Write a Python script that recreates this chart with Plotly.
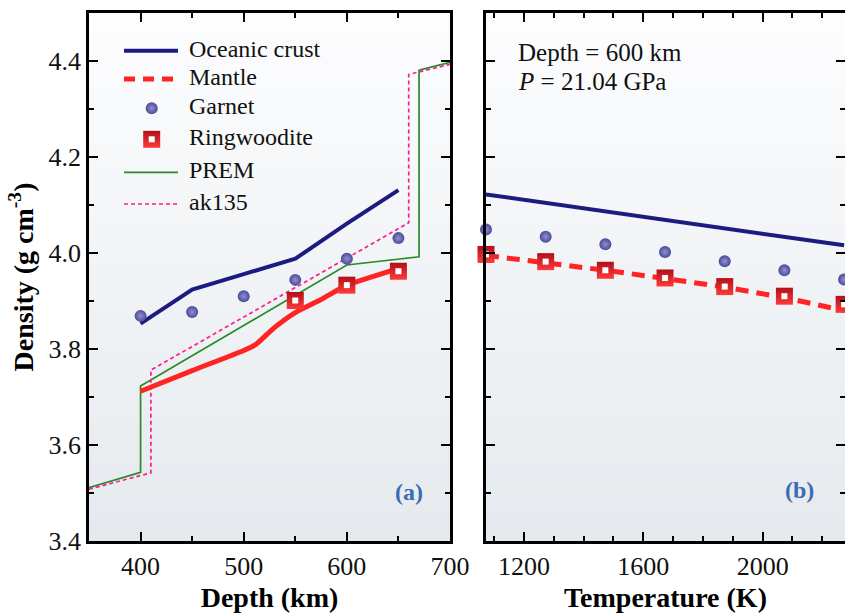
import plotly.graph_objects as go

# ---------------- data: panel (a) density vs depth ----------------
depth_crust = [400, 450, 500, 550, 600, 650]
rho_crust_a = [3.853, 3.924, 3.956, 3.988, 4.061, 4.131]
depth_mantle = [400, 450, 500, 512, 530, 550, 575, 600, 625, 650]
rho_mantle_a = [3.712, 3.755, 3.797, 3.810, 3.845, 3.876, 3.903, 3.933, 3.951, 3.968]
depth_garnet = [400, 450, 500, 550, 600, 650]
rho_garnet_a = [3.869, 3.877, 3.910, 3.944, 3.988, 4.031]
depth_ring = [550, 600, 650]
rho_ring_a = [3.901, 3.933, 3.962]
depth_prem = [350, 400, 400, 600, 670, 670, 700]
rho_prem = [3.511, 3.543, 3.723, 3.975, 3.992, 4.381, 4.397]
depth_ak135 = [350, 410, 410, 660, 660, 700]
rho_ak135 = [3.508, 3.542, 3.756, 4.063, 4.372, 4.393]

# ---------------- data: panel (b) density vs temperature at 600 km ----------------
temperature = [1073, 1273, 1473, 1673, 1873, 2073, 2273]
rho_crust_b = [4.122, 4.104, 4.086, 4.069, 4.051, 4.034, 4.016]
rho_mantle_b = [3.995, 3.980, 3.964, 3.947, 3.929, 3.907, 3.880]
rho_garnet_b = [4.049, 4.034, 4.018, 4.002, 3.983, 3.964, 3.945]
rho_ring_b = [3.997, 3.982, 3.964, 3.948, 3.930, 3.910, 3.893]

legend_names = ["Oceanic crust", "Mantle", "Garnet", "Ringwoodite", "PREM", "ak135"]
xticks_a = [400, 500, 600, 700]
xticks_b = [1200, 1600, 2000]

# ---------------- styles ----------------
FONT = "Liberation Serif"
NAVY = "#1b1b80"
RED = "#ff2323"
GREEN = "#2a8a2a"
PINK = "#ff1c8c"
GARNET = "#4a4a9c"
GARNET_HI = "#9090cc"
RING = "#b0101a"
RING_DARK = "#ff3a3a"
LABEL_BLUE = "#3a6cb2"

fig = go.Figure()

def garnet_marker(size=12):
    return dict(symbol="circle", size=size, color=GARNET,
                gradient=dict(type="radial", color=GARNET_HI), line=dict(width=0))

def ring_outer(size=17):
    return dict(symbol="square", size=size, color=RING,
                gradient=dict(type="vertical", color=RING_DARK), line=dict(width=0))

def ring_inner(size=6):
    return dict(symbol="square", size=size, color="white", line=dict(width=0))

# panel (a)
fig.add_trace(go.Scatter(x=depth_prem, y=rho_prem, mode="lines",
                         line=dict(color=GREEN, width=1.7), xaxis="x", yaxis="y"))
fig.add_trace(go.Scatter(x=depth_ak135, y=rho_ak135, mode="lines",
                         line=dict(color=PINK, width=1.7, dash="4px,3px"), xaxis="x", yaxis="y"))
fig.add_trace(go.Scatter(x=depth_crust, y=rho_crust_a, mode="lines",
                         line=dict(color=NAVY, width=4), xaxis="x", yaxis="y"))
fig.add_trace(go.Scatter(x=depth_mantle, y=rho_mantle_a, mode="lines",
                         line=dict(color=RED, width=5, shape="spline", smoothing=0.6), xaxis="x", yaxis="y"))
fig.add_trace(go.Scatter(x=depth_garnet, y=rho_garnet_a, mode="markers",
                         marker=garnet_marker(), cliponaxis=False, xaxis="x", yaxis="y"))
fig.add_trace(go.Scatter(x=depth_ring, y=rho_ring_a, mode="markers",
                         marker=ring_outer(), cliponaxis=False, xaxis="x", yaxis="y"))
fig.add_trace(go.Scatter(x=depth_ring, y=rho_ring_a, mode="markers",
                         marker=ring_inner(), cliponaxis=False, xaxis="x", yaxis="y"))

# panel (b)
fig.add_trace(go.Scatter(x=temperature, y=rho_crust_b, mode="lines",
                         line=dict(color=NAVY, width=4), xaxis="x2", yaxis="y2"))
fig.add_trace(go.Scatter(x=temperature, y=rho_mantle_b, mode="lines",
                         line=dict(color=RED, width=5, dash="13px,8px"), xaxis="x2", yaxis="y2"))
fig.add_trace(go.Scatter(x=temperature, y=rho_garnet_b, mode="markers",
                         marker=garnet_marker(), cliponaxis=False, xaxis="x2", yaxis="y2"))
fig.add_trace(go.Scatter(x=temperature, y=rho_ring_b, mode="markers",
                         marker=ring_outer(), cliponaxis=False, xaxis="x2", yaxis="y2"))
fig.add_trace(go.Scatter(x=temperature, y=rho_ring_b, mode="markers",
                         marker=ring_inner(), cliponaxis=False, xaxis="x2", yaxis="y2"))

# ---------------- hand-made legend (fractions of panel (a)) ----------------
leg_x0, leg_x1, leg_xm, leg_xt = 0.097, 0.2465, 0.1737, 0.2715
leg_rows = [0.9286, 0.875, 0.8195, 0.7608, 0.6983, 0.6383]
line_styles = {0: dict(color=NAVY, width=4),
               1: dict(color=RED, width=5, dash="11px,8px"),
               4: dict(color=GREEN, width=1.7),
               5: dict(color=PINK, width=1.7, dash="4px,3px")}
for i, st in line_styles.items():
    fig.add_trace(go.Scatter(x=[leg_x0, leg_x1], y=[leg_rows[i]] * 2, mode="lines",
                             line=st, xaxis="x3", yaxis="y3"))
fig.add_trace(go.Scatter(x=[leg_xm], y=[leg_rows[2]], mode="markers",
                         marker=garnet_marker(), xaxis="x3", yaxis="y3"))
fig.add_trace(go.Scatter(x=[leg_xm], y=[leg_rows[3]], mode="markers",
                         marker=ring_outer(), xaxis="x3", yaxis="y3"))
fig.add_trace(go.Scatter(x=[leg_xm], y=[leg_rows[3]], mode="markers",
                         marker=ring_inner(), xaxis="x3", yaxis="y3"))

annotations = []
for name, yy in zip(legend_names, leg_rows):
    annotations.append(dict(text=name, x=leg_xt, y=yy + 0.004, xref="x domain", yref="y domain",
                            xanchor="left", yanchor="middle", showarrow=False,
                            font=dict(family=FONT, size=24, color="#111111")))
annotations += [
    dict(text="<b>(a)</b>", x=0.886, y=0.093, xref="x domain", yref="y domain",
         xanchor="center", yanchor="middle", showarrow=False,
         font=dict(family=FONT, size=24, color=LABEL_BLUE)),
    dict(text="<b>(b)</b>", x=0.873, y=0.097, xref="x2 domain", yref="y2 domain",
         xanchor="center", yanchor="middle", showarrow=False,
         font=dict(family=FONT, size=24, color=LABEL_BLUE)),
    dict(text="Depth = 600 km", x=0.084, y=0.926, xref="x2 domain", yref="y2 domain",
         xanchor="left", yanchor="middle", showarrow=False,
         font=dict(family=FONT, size=25, color="#111111")),
    dict(text="<i>P</i> = 21.04 GPa", x=0.084, y=0.870, xref="x2 domain", yref="y2 domain",
         xanchor="left", yanchor="middle", showarrow=False,
         font=dict(family=FONT, size=25, color="#111111")),
]

# ---------------- gradient background ----------------
def lerp(c0, c1, t):
    return "rgb(%d,%d,%d)" % tuple(round(a + (b - a) * t) for a, b in zip(c0, c1))

TOP = (253, 253, 254)
BOT = (229, 234, 238)
shapes = []
N = 48
for xr, yr in [("x domain", "y domain"), ("x2 domain", "y2 domain")]:
    for k in range(N):
        t = k / (N - 1)
        shapes.append(dict(type="rect", xref=xr, yref=yr, x0=0, x1=1,
                           y0=1 - (k + 1) / N, y1=1 - k / N + 0.002,
                           fillcolor=lerp(TOP, BOT, t), line=dict(width=0), layer="below"))

axis_common = dict(showline=True, linecolor="black", linewidth=2.5, mirror="allticks",
                   ticks="inside", ticklen=9, tickwidth=2, tickcolor="black",
                   showgrid=False, zeroline=False, automargin=False,
                   tickfont=dict(family=FONT, size=26, color="#111111"))
minor_common = dict(ticks="inside", ticklen=5, tickwidth=2, tickcolor="black", showgrid=False)

fig.update_layout(
    width=845, height=615,
    margin=dict(l=89, r=0, t=13, b=74),
    paper_bgcolor="white", plot_bgcolor="rgba(0,0,0,0)",
    showlegend=False,
    font=dict(family=FONT),
    shapes=shapes,
    annotations=annotations,
    xaxis=dict(domain=[0, 0.4775], range=[350, 700], tickvals=xticks_a,
               minor=dict(dtick=50, tick0=350, **minor_common),
               title=dict(text="<b>Depth (km)</b>", font=dict(family=FONT, size=28, color="black"), standoff=8),
               anchor="y", **axis_common),
    yaxis=dict(domain=[0, 1], range=[3.4, 4.5], tick0=3.4, dtick=0.2, tickformat=".1f",
               minor=dict(dtick=0.1, tick0=3.4, **minor_common),
               title=dict(text="<b>Density (g cm<sup>-3</sup>)</b>", font=dict(family=FONT, size=28, color="black"), standoff=7),
               anchor="x", **axis_common),
    xaxis2=dict(domain=[0.5251, 1.0], range=[1073, 2276], tickvals=xticks_b,
                minor=dict(dtick=100, tick0=1000, **minor_common),
                title=dict(text="<b>Temperature (K)</b>", font=dict(family=FONT, size=28, color="black"), standoff=8),
                anchor="y2", **axis_common),
    yaxis2=dict(domain=[0, 1], range=[3.4, 4.5], tick0=3.4, dtick=0.2, showticklabels=False,
                minor=dict(dtick=0.1, tick0=3.4, **minor_common),
                anchor="x2", **axis_common),
    xaxis3=dict(overlaying="x", range=[0, 1], visible=False, anchor="y3"),
    yaxis3=dict(overlaying="y", range=[0, 1], visible=False, anchor="x3"),
)

fig.write_html("out.html", config={"displayModeBar": False},
               post_script="document.body.style.margin='0';document.body.style.overflow='hidden';")
